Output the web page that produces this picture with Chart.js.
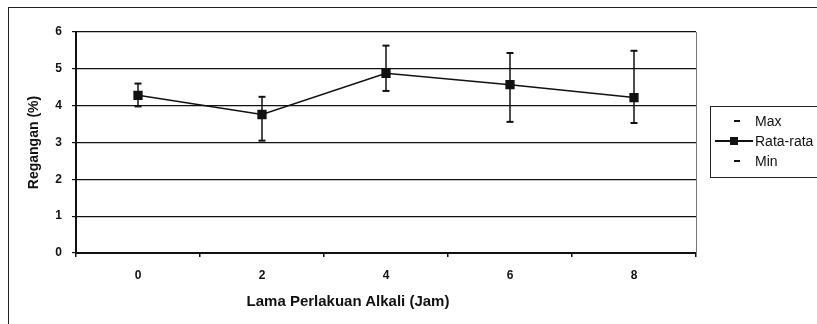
<!DOCTYPE html>
<html>
<head>
<meta charset="utf-8">
<script src="https://cdn.jsdelivr.net/npm/chart.js@4/dist/chart.umd.min.js"></script>
<style>
  html, body { margin: 0; padding: 0; background: #fff; overflow: hidden; }
  #wrap { position: relative; width: 817px; height: 324px; overflow: hidden; }
  #frame { position: absolute; left: 8px; top: 7px; width: 900px; height: 400px; border: 1.5px solid #222; box-sizing: border-box; }
  #c { position: absolute; left: 0; top: 0; }
  #judulX { position: absolute; left: 198px; top: 292px; width: 300px; text-align: center;
            font: bold 15px "Liberation Sans", Arial, sans-serif; color: #111; }
  #legend { position: absolute; left: 710px; top: 106px; width: 130px; height: 72px; border: 1px solid #222; box-sizing: border-box;
            font: 14px "Liberation Sans", Arial, sans-serif; color: #111; }
  .item { position: absolute; left: 0; height: 16px; line-height: 16px; }
  .item .mk { position: absolute; top: 7px; background: #111; }
  .item .tx { position: absolute; left: 44px; white-space: nowrap; }
</style>
</head>
<body>
<div id="wrap">
  <div id="frame"></div>
  <canvas id="c" width="817" height="324"></canvas>
  <div id="judulX">Lama Perlakuan Alkali (Jam)</div>
  <div id="legend">
    <div class="item" style="top:6px"><span class="mk" style="left:23px;width:6px;height:2px"></span><span class="tx">Max</span></div>
    <div class="item" style="top:26px"><span class="mk" style="left:4px;width:38px;height:1.5px"></span><span class="mk" style="left:19px;top:4px;width:8px;height:8px"></span><span class="tx">Rata-rata</span></div>
    <div class="item" style="top:46px"><span class="mk" style="left:23px;width:6px;height:2px"></span><span class="tx">Min</span></div>
  </div>
</div>
<script>
// data
const kategori = ["0", "2", "4", "6", "8"];
const rataRata = [4.28, 3.76, 4.88, 4.57, 4.22];
const nilaiMax = [4.6, 4.24, 5.63, 5.43, 5.49];
const nilaiMin = [3.98, 3.05, 4.4, 3.56, 3.53];

const FONT = "'Liberation Sans', Arial, sans-serif";

// garis vertikal max-min (high-low lines)
const garisHiLo = {
    id: "garisHiLo",
    beforeDatasetsDraw(chart) {
        const ctx = chart.ctx, x = chart.scales.x, y = chart.scales.y;
        ctx.save();
        ctx.strokeStyle = "#111";
        ctx.lineWidth = 1.5;
        kategori.forEach((k, i) => {
            const px = x.getPixelForValue(i);
            ctx.beginPath();
            ctx.moveTo(px, y.getPixelForValue(nilaiMax[i]));
            ctx.lineTo(px, y.getPixelForValue(nilaiMin[i]));
            ctx.stroke();
        });
        ctx.restore();
    },
    afterDraw(chart) {
        // border kanan plot area (abu-abu)
        const a = chart.chartArea, ctx = chart.ctx;
        ctx.save();
        ctx.strokeStyle = "#777";
        ctx.lineWidth = 1;
        ctx.beginPath();
        ctx.moveTo(a.right + 0.5, a.top);
        ctx.lineTo(a.right + 0.5, a.bottom);
        ctx.stroke();
        ctx.restore();
    },
};

new Chart(document.getElementById("c"), {
    type: "line",
    data: {
        labels: kategori,
        datasets: [
            { label: "Max", data: nilaiMax, showLine: false, pointStyle: "line", pointRadius: 3.5, borderColor: "#111", borderWidth: 2, backgroundColor: "#111" },
            { label: "Rata-rata", data: rataRata, borderColor: "#111", borderWidth: 1.5, pointStyle: "rect", pointRadius: 5.5, backgroundColor: "#111", pointBackgroundColor: "#111", tension: 0 },
            { label: "Min", data: nilaiMin, showLine: false, pointStyle: "line", pointRadius: 3.5, borderColor: "#111", borderWidth: 2, backgroundColor: "#111" },
        ],
    },
    options: {
        responsive: false,
        animation: false,
        events: [],
        layout: { padding: { left: 22, right: 121, top: 32, bottom: 0 } },
        plugins: { legend: { display: false }, tooltip: { enabled: false } },
        scales: {
            x: {
                offset: true,
                grid: { offset: true, drawOnChartArea: false, drawTicks: true, tickLength: 4, color: "#111", lineWidth: 1.5 },
                border: { color: "#111", width: 2 },
                ticks: { color: "#111", padding: 11, font: { family: FONT, size: 12, weight: "bold" } },
                afterFit(s) { s.height = 71; },
            },
            y: {
                min: 0,
                max: 6,
                ticks: { stepSize: 1, color: "#111", padding: 10, font: { family: FONT, size: 12, weight: "bold" } },
                grid: { color: "#111", lineWidth: 1.2, tickLength: 4 },
                border: { color: "#111", width: 2 },
                title: { display: true, text: "Regangan (%)", color: "#111", padding: { bottom: 4 }, font: { family: FONT, size: 14, weight: "bold" } },
                afterFit(s) { s.width = 54; },
            },
        },
    },
    plugins: [garisHiLo],
});
</script>
</body>
</html>
